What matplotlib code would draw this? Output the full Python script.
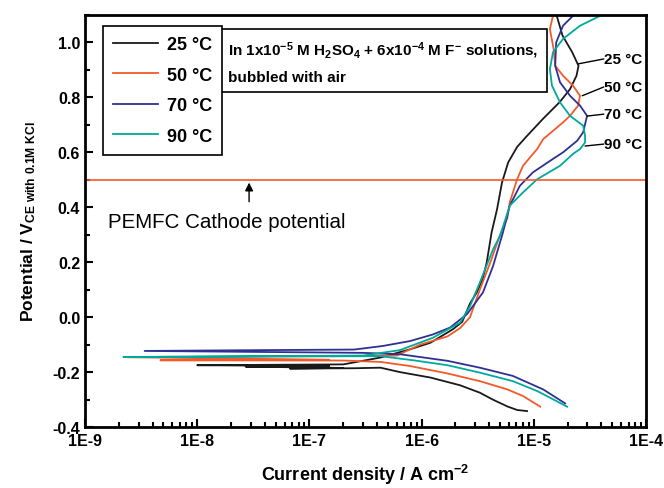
import matplotlib
matplotlib.use("Agg")
import matplotlib.pyplot as plt
import numpy as np
from matplotlib.ticker import FixedLocator, FuncFormatter, MultipleLocator, LogLocator

plt.rcParams['font.family'] = ['Liberation Sans', 'DejaVu Sans']
plt.rcParams['font.weight'] = 'bold'
plt.rcParams['mathtext.fontset'] = 'custom'
plt.rcParams['mathtext.rm'] = 'Liberation Sans:bold'
plt.rcParams['mathtext.it'] = 'Liberation Sans:bold'
plt.rcParams['mathtext.bf'] = 'Liberation Sans:bold'
plt.rcParams['mathtext.default'] = 'rm'

# polarization curves, scan order: cathodic end -> Ecorr noise -> anodic branch
i_25 = [8.7e-6, 7.1e-6, 5.8e-6, 4.3e-6, 3.3e-6, 2.2e-6, 1.2e-6, 6.4e-7, 4.3e-7,
        2.5e-7, 6.7e-8, 2.0e-7, 2.7e-8, 1.5e-7, 1.0e-8, 2.0e-7, 4.3e-7,
        7.9e-7, 1.2e-6, 1.9e-6, 2.3e-6, 2.7e-6, 3.1e-6, 3.5e-6, 3.8e-6, 4.2e-6,
        4.7e-6, 5.2e-6, 5.9e-6, 7.1e-6, 8.7e-6, 1.2e-5, 1.7e-5, 2.1e-5, 2.4e-5,
        2.5e-5, 2.2e-5, 1.8e-5, 1.6e-5]
E_25 = [-0.342, -0.338, -0.325, -0.300, -0.275, -0.248, -0.220, -0.200, -0.184,
        -0.186, -0.187, -0.185, -0.180, -0.178, -0.175, -0.172, -0.147,
        -0.117, -0.093, -0.044, -0.017, 0.050, 0.090, 0.138, 0.199, 0.308,
        0.393, 0.490, 0.563, 0.620, 0.660, 0.721, 0.783, 0.830, 0.879,
        0.915, 0.964, 1.025, 1.097]

i_50 = [1.14e-5, 8.0e-6, 5.8e-6, 3.3e-6, 1.7e-6, 7.9e-7, 4.3e-7,
        2.0e-7, 4.7e-9, 1.5e-7, 2.4e-9, 6.0e-7,
        9.7e-7, 1.7e-6, 2.2e-6, 2.7e-6, 3.3e-6, 4.1e-6, 5.0e-6, 5.8e-6,
        6.1e-6, 7.1e-6, 8.0e-6, 1.07e-5, 1.21e-5, 1.82e-5, 2.1e-5, 2.48e-5,
        2.58e-5, 2.23e-5, 1.82e-5, 1.55e-5, 1.5e-5, 1.39e-5, 1.48e-5]
E_50 = [-0.326, -0.287, -0.263, -0.233, -0.205, -0.178, -0.163,
        -0.158, -0.157, -0.155, -0.146, -0.140,
        -0.100, -0.070, -0.040, 0.000, 0.100, 0.200, 0.300, 0.360,
        0.418, 0.502, 0.551, 0.612, 0.648, 0.709, 0.733, 0.770,
        0.806, 0.843, 0.879, 0.915, 0.976, 1.049, 1.097]

i_70 = [1.9e-5, 1.21e-5, 6.5e-6, 3.3e-6, 1.7e-6, 6.4e-7,
        3.0e-7, 3.4e-9, 4.0e-8, 2.5e-7, 4.5e-7,
        7.9e-7, 1.26e-6, 1.79e-6, 2.54e-6, 3.52e-6, 4.33e-6, 5.3e-6, 6.1e-6,
        7.5e-6, 9.8e-6, 1.48e-5, 1.82e-5, 2.43e-5, 2.75e-5, 2.98e-5, 2.58e-5,
        2.1e-5, 1.71e-5, 1.55e-5, 1.58e-5, 1.82e-5, 2.23e-5]
E_70 = [-0.314, -0.263, -0.214, -0.184, -0.159, -0.135,
        -0.130, -0.123, -0.120, -0.118, -0.105,
        -0.087, -0.063, -0.038, 0.011, 0.090, 0.186, 0.308, 0.406,
        0.478, 0.527, 0.576, 0.600, 0.642, 0.673, 0.733, 0.770,
        0.806, 0.855, 0.915, 1.000, 1.061, 1.097]

i_90 = [1.98e-5, 1.39e-5, 1.07e-5, 6.5e-6, 3.3e-6, 1.7e-6, 8.4e-7, 4.3e-7,
        2.2e-9, 3.0e-7, 6.4e-7,
        1.26e-6, 2.2e-6, 2.7e-6, 3.3e-6, 4.33e-6, 5.0e-6, 6.1e-6, 8.0e-6,
        1.07e-5, 1.71e-5, 2.23e-5, 2.58e-5, 2.86e-5, 2.86e-5, 2.75e-5, 2.1e-5,
        1.71e-5, 1.45e-5, 1.39e-5, 1.48e-5, 1.82e-5, 2.58e-5, 3.9e-5]
E_90 = [-0.326, -0.293, -0.269, -0.233, -0.202, -0.175, -0.157, -0.142,
        -0.145, -0.140, -0.120,
        -0.075, -0.020, 0.040, 0.126, 0.247, 0.296, 0.406, 0.454,
        0.502, 0.551, 0.594, 0.612, 0.636, 0.660, 0.697, 0.733,
        0.782, 0.843, 0.903, 0.964, 1.013, 1.061, 1.097]

labels = ['25 °C', '50 °C', '70 °C', '90 °C']
colors = ['#1a1a1a', '#f15a29', '#2e3192', '#00a99d']

# side labels: curve point, label point
side_xy = [(2.48e-5, 0.922), (2.7e-5, 0.806), (2.98e-5, 0.732), (2.86e-5, 0.623)]
side_txt = [(4.2e-5, 0.94), (4.2e-5, 0.838), (4.2e-5, 0.739), (4.2e-5, 0.63)]

cathode_E = 0.5

fig = plt.figure(figsize=(6.64, 4.89), dpi=100)
ax = fig.add_axes([0.128, 0.1247, 0.845, 0.8426])

for i_, E_, c, lab in zip([i_25, i_50, i_70, i_90], [E_25, E_50, E_70, E_90], colors, labels):
    ax.plot(i_, E_, color=c, lw=1.3, label=lab)

ax.axhline(cathode_E, color='#f15a29', lw=1.2)
ax.annotate('', xy=(2.9e-8, cathode_E), xytext=(2.9e-8, 0.41),
            arrowprops=dict(arrowstyle='-|>', color='black', lw=1.0, mutation_scale=12))
ax.text(1.6e-9, 0.347, 'PEMFC Cathode potential', fontsize=14.8, fontweight='normal',
        va='center', ha='left')

for (xy, xt) in zip(side_xy, side_txt):
    ax.annotate('', xy=xy, xytext=xt, arrowprops=dict(arrowstyle='-', color='black', lw=1.0,
                                                      shrinkA=0, shrinkB=0))
for (xt, lab) in zip(side_txt, labels):
    ax.text(xt[0], xt[1], lab, fontsize=11, fontweight='bold', va='center', ha='left')

ax.set_xscale('log')
ax.set_xlim(1e-9, 1e-4)
ax.set_ylim(-0.4, 1.1)
ax.xaxis.set_major_locator(LogLocator(base=10, numticks=10))
ax.xaxis.set_minor_locator(LogLocator(base=10, subs=np.arange(2, 10), numticks=20))
ax.xaxis.set_major_formatter(FuncFormatter(lambda v, p: '1E%d' % round(np.log10(v))))
ax.yaxis.set_major_locator(FixedLocator(np.arange(-0.4, 1.01, 0.2)))
ax.yaxis.set_minor_locator(MultipleLocator(0.1))
ax.yaxis.set_major_formatter(FuncFormatter(lambda v, p: '%.1f' % v))
ax.tick_params(which='both', direction='in', top=False, right=False, labelsize=11.5, width=1.5)
ax.tick_params(which='major', length=6)
ax.tick_params(which='minor', length=3.5)
ax.tick_params(axis='x', pad=4)
for t in ax.get_xticklabels() + ax.get_yticklabels():
    t.set_fontweight('bold')
for s in ax.spines.values():
    s.set_linewidth(2)

ax.set_xlabel('Current density / A cm$^{-2}$', fontsize=13, fontweight='bold', labelpad=10)
ax.set_ylabel('Potential / V$_{\\mathrm{CE\\ with\\ 0.1M\\ KCl}}$', fontsize=12.5,
              fontweight='bold', labelpad=10)

leg = ax.legend(loc='upper left', bbox_to_anchor=(0.032, 0.973), borderaxespad=0,
                prop={'size': 13, 'weight': 'bold'}, handlelength=2.5, fancybox=False,
                framealpha=1, edgecolor='black', labelspacing=0.75, borderpad=0.55,
                handletextpad=0.5)
leg.get_frame().set_linewidth(1.2)

ax.text(0.255, 0.94,
        'In 1x10$^{-5}$ M H$_2$SO$_4$ + 6x10$^{-4}$ M F$^{-}$ solutions,\nbubbled with air',
        transform=ax.transAxes, fontsize=11, va='top', ha='left', linespacing=1.85,
        bbox=dict(boxstyle='square,pad=0.55', fc='white', ec='black', lw=1.2))

fig.savefig('out.png', dpi=100)
